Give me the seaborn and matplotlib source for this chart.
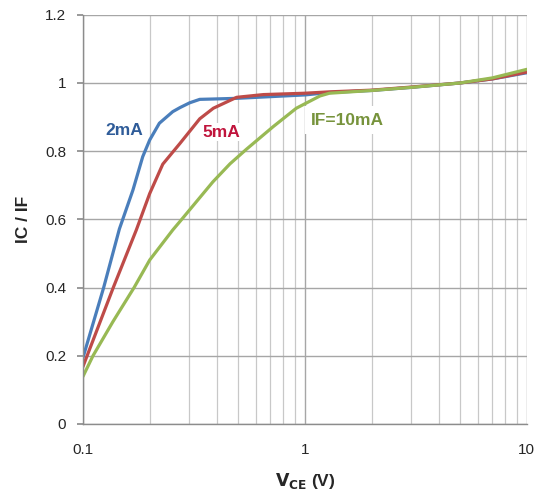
import numpy as np
import pandas as pd
import seaborn as sns
import matplotlib.pyplot as plt
from matplotlib.ticker import LogLocator, FixedLocator, NullFormatter

# values
vce_2ma = [0.1, 0.124, 0.146, 0.168, 0.186, 0.2, 0.221, 0.254, 0.274, 0.303, 0.336, 0.385,
           0.493, 1.0, 1.29, 2, 3, 5, 7, 10]
ratio_2ma = [0.194, 0.40, 0.572, 0.686, 0.784, 0.833, 0.882, 0.916, 0.928, 0.942, 0.952, 0.953,
             0.955, 0.965, 0.972, 0.978, 0.987, 1.0, 1.012, 1.03]

vce_5ma = [0.1, 0.137, 0.174, 0.2, 0.229, 0.273, 0.336, 0.387, 0.493, 0.65, 1.0, 1.29,
           2, 3, 5, 7, 10]
ratio_5ma = [0.168, 0.40, 0.569, 0.676, 0.762, 0.822, 0.895, 0.926, 0.958, 0.966, 0.970, 0.974,
             0.979, 0.988, 1.0, 1.012, 1.032]

vce_10ma = [0.1, 0.111, 0.1365, 0.17, 0.2, 0.254, 0.277, 0.385, 0.46, 0.546, 0.72, 0.915, 1.17,
            1.29, 2, 3, 5, 7, 10]
ratio_10ma = [0.139, 0.2, 0.30, 0.40, 0.481, 0.569, 0.598, 0.71, 0.763, 0.806, 0.872, 0.926, 0.962,
              0.97, 0.978, 0.987, 1.0, 1.015, 1.04]

series_names = ["2mA", "5mA", "IF=10mA"]
line_colors = ["#4a7ebb", "#be4b48", "#98b954"]
text_colors = ["#2f5c99", "#c0143c", "#77933c"]
label_pos = [(0.154, 0.86), (0.42, 0.856), (1.56, 0.891)]
label_pads = [1.0, 1.0, 4.5]

df = pd.concat([
    pd.DataFrame({"VCE": vce_2ma, "ratio": ratio_2ma, "IF": "2mA"}),
    pd.DataFrame({"VCE": vce_5ma, "ratio": ratio_5ma, "IF": "5mA"}),
    pd.DataFrame({"VCE": vce_10ma, "ratio": ratio_10ma, "IF": "IF=10mA"}),
])

sns.set_theme(style="white")
plt.rcParams['font.family'] = ['Liberation Sans', 'DejaVu Sans']

fig = plt.figure(figsize=(5.42, 4.93), dpi=100)
ax = fig.add_axes([0.153, 0.140, 0.819, 0.830])

sns.lineplot(data=df, x="VCE", y="ratio", hue="IF", hue_order=series_names,
             palette=line_colors, linewidth=2.3, sort=False, legend=False,
             estimator=None, ax=ax)
for ln in ax.lines:
    ln.set_solid_joinstyle("round")
    ln.set_solid_capstyle("round")

ax.set_xscale("log")
ax.set_xlim(0.1, 10)
ax.set_ylim(0, 1.2)
ax.yaxis.set_major_locator(FixedLocator([0, 0.2, 0.4, 0.6, 0.8, 1.0, 1.2]))
ax.set_yticklabels(["0", "0.2", "0.4", "0.6", "0.8", "1", "1.2"])
ax.xaxis.set_major_locator(FixedLocator([0.1, 1, 10]))
ax.set_xticklabels(["0.1", "1", "10"])
ax.xaxis.set_minor_locator(LogLocator(base=10, subs=np.arange(2, 10)))
ax.xaxis.set_minor_formatter(NullFormatter())

ax.grid(True, which="major", axis="both", color="#a6a6a6", linewidth=1.0)
ax.grid(True, which="minor", axis="x", color="#c8c8c8", linewidth=0.9)
ax.set_axisbelow(True)

for side in ["top", "right"]:
    ax.spines[side].set_visible(False)
for side in ["left", "bottom"]:
    ax.spines[side].set_color("#8c8c8c")
    ax.spines[side].set_linewidth(1.0)

ax.tick_params(axis="y", which="major", left=True, length=4, color="#8c8c8c",
               labelsize=11, pad=8)
ax.tick_params(axis="x", which="both", bottom=False, labelsize=11, pad=8)

ax.set_xlabel(r"$\mathbf{V_{CE}}$ (V)", fontsize=12.5, fontweight="bold", labelpad=10)
ax.set_ylabel("IC / IF", fontsize=12.5, fontweight="bold", labelpad=10)

for name, col, (lx, ly), pd_ in zip(series_names, text_colors, label_pos, label_pads):
    ax.text(lx, ly, name, color=col, fontsize=12.5, fontweight="bold",
            ha="center", va="center", zorder=5,
            bbox=dict(facecolor="white", edgecolor="none", pad=pd_))

fig.savefig("out.png", dpi=100)
